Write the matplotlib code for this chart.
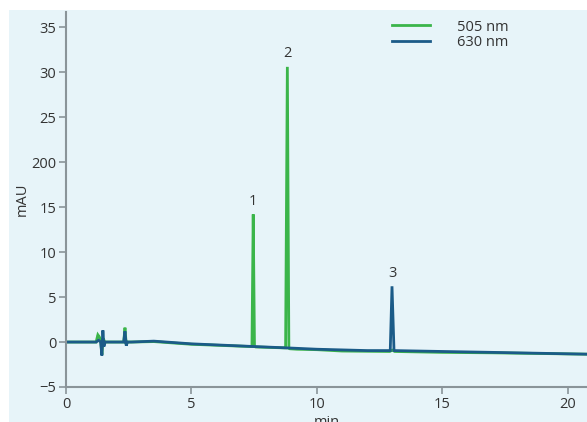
import matplotlib.pyplot as plt
from matplotlib.patches import Rectangle

plt.rcParams['font.family'] = ['Open Sans', 'DejaVu Sans']

# 505 nm trace (time in min, signal in mAU)
t_505 = [0.0, 1.2, 1.27, 1.32, 1.38, 1.43, 1.48, 1.55, 1.7, 2.3, 2.35, 2.4, 2.45, 2.6,
         3.5, 5.0, 7.35, 7.41, 7.46, 7.51, 7.56, 8.7, 8.75, 8.82, 8.88, 8.92, 9.2,
         10.0, 11.0, 12.9, 13.0, 13.1, 15.0, 17.0, 20.76]
y_505 = [0.0, 0.0, 0.8, 0.6, 0.3, -1.4, 0.4, 0.0, 0.0, 0.0, 1.6, -0.3, 0.0, 0.0,
         0.05, -0.25, -0.5, -0.5, 14.2, -0.5, -0.55, -0.65, -0.65, 30.6, -0.7, -0.75, -0.8,
         -0.85, -1.0, -1.05, -0.9, -1.05, -1.15, -1.2, -1.35]

# 630 nm trace
t_630 = [0.0, 1.2, 1.3, 1.38, 1.43, 1.47, 1.51, 1.56, 1.7, 2.3, 2.35, 2.4, 2.45, 2.6,
         3.5, 5.0, 7.5, 8.8, 10.0, 12.0, 12.92, 12.99, 13.07, 15.0, 17.0, 20.76]
y_630 = [0.0, 0.0, 0.2, 0.0, -1.5, 1.3, -0.5, 0.0, 0.0, 0.0, 1.2, -0.4, 0.0, 0.0,
         0.1, -0.2, -0.5, -0.65, -0.8, -0.95, -0.95, 6.2, -0.95, -1.05, -1.15, -1.35]

peak_labels = ['1', '2', '3']
peak_t = [7.46, 8.82, 12.99]
peak_y = [14.2, 30.6, 6.2]

y_ticks = [-5, 0, 5, 10, 15, 20, 25, 30, 35]
y_ticklabels = ['\u22125', '0', '5', '10', '15', '200', '25', '30', '35']
x_ticks = [0, 5, 10, 15, 20]

bg = '#e7f4f9'
green = '#3bb54a'
blue = '#1b5b88'
grey = '#8a9499'
txt = '#333333'
fs = 10.5

fig = plt.figure(figsize=(5.87, 4.22), dpi=100)
fig.patches.append(Rectangle((9 / 587, 0), 1, (422 - 10) / 422,
                             transform=fig.transFigure, facecolor=bg,
                             edgecolor='none', zorder=-10))
ax = fig.add_axes([66 / 587, 35 / 422, 1 - 66 / 587, (387 - 12) / 422])
ax.set_zorder(5)
ax.set_facecolor(bg)

ax.plot(t_505, y_505, color=green, lw=2.0, label='505 nm', solid_joinstyle='miter')
ax.plot(t_630, y_630, color=blue, lw=2.0, label='630 nm', solid_joinstyle='miter')

for lab, tx, ty in zip(peak_labels, peak_t, peak_y):
    ax.text(tx, ty + 0.6, lab, ha='center', va='bottom', fontsize=fs, color=txt)

ax.set_xlim(0, 20.76)
ax.set_ylim(-5, 36.7)
ax.set_yticks(y_ticks)
ax.set_yticklabels(y_ticklabels)
ax.set_xticks(x_ticks)
ax.set_xlabel('min', fontsize=fs, color=txt, labelpad=2)
ax.set_ylabel('mAU', fontsize=fs, color=txt, labelpad=1)

for s in ['top', 'right']:
    ax.spines[s].set_visible(False)
for s in ['left', 'bottom']:
    ax.spines[s].set_color(grey)
    ax.spines[s].set_linewidth(1.5)
ax.tick_params(colors=grey, labelcolor=txt, labelsize=fs, length=5, width=1.2, pad=2)

ax.legend(loc='upper left', bbox_to_anchor=(0.60, 1.015), frameon=False,
          fontsize=fs, handlelength=2.6, handletextpad=1.9, labelspacing=0.05,
          labelcolor=txt)

fig.savefig('out.png', dpi=100)
